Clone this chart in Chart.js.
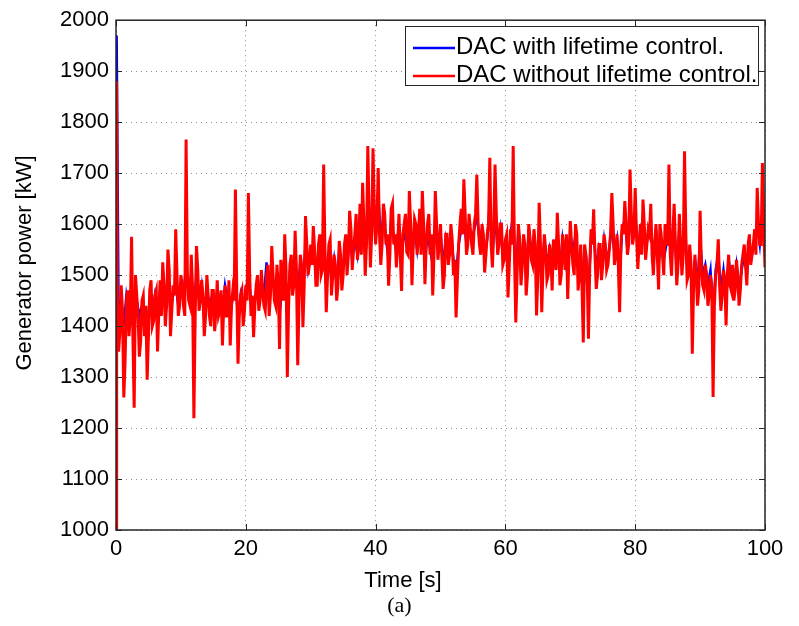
<!DOCTYPE html>
<html><head><meta charset="utf-8">
<script src="https://cdn.jsdelivr.net/npm/chart.js@4.4.0/dist/chart.umd.min.js"></script>
<style>
html,body{margin:0;padding:0;background:#fff;}
#wrap{position:relative;width:799px;height:626px;}
canvas{display:block;}
#cap{position:absolute;left:0;width:799px;top:592px;text-align:center;font:22px "Liberation Serif",serif;color:#000;}
</style>
</head><body>
<div id="wrap"><canvas id="c" width="799" height="626"></canvas><div id="cap">(a)</div></div>
<script>
// Time axis sampling: start-up transient, then 0.2 s samples (even = main, odd = mid)
const startTimes = [0, 0.1];
const sampleStep = 0.4;
const redStart = [1000, 1880];
const blueStart = [1000, 1970];
// red samples at t = 0.4, 0.8, ... 100
const redValues = [
1350,1480,1260,1450,1380,1575,1240,1460,1340,1450,1380,1295,1470,1400,1460,1350,1490,1525,1400,1550,1380,1480,1590,1420,1500,
1440,1766,1450,1540,1219,1557,1430,1490,1380,1500,1420,1470,1390,1490,1430,1362,1480,1420,1362,1470,1668,1326,1460,1400,1480,
1661,1420,1378,1480,1430,1510,1440,1500,1420,1557,1450,1520,1355,1500,1580,1300,1520,1460,1587,1323,1540,1398,1616,1500,1560,
1596,1480,1560,1500,1717,1427,1560,1460,1540,1450,1567,1470,1560,1500,1626,1510,1580,1530,1640,1681,1499,1753,1515,1749,1560,
1710,1520,1640,1560,1479,1630,1560,1515,1620,1469,1600,1545,1665,1480,1610,1540,1630,1665,1482,1600,1540,1460,1665,1530,1600,
1473,1580,1520,1600,1500,1417,1560,1630,1688,1540,1620,1560,1600,1697,1560,1600,1505,1580,1730,1515,1717,1540,1600,1520,1570,
1456,1590,1753,1407,1600,1480,1580,1460,1600,1530,1590,1421,1642,1427,1580,1490,1560,1470,1540,1622,1480,1580,1510,1453,1606,
1520,1600,1470,1560,1368,1540,1375,1590,1629,1473,1560,1490,1580,1510,1550,1661,1520,1580,1427,1600,1645,1540,1707,1560,1671,
1512,1600,1648,1530,1590,1640,1500,1600,1472,1580,1500,1560,1717,1499,1640,1480,1620,1500,1743,1490,1560,1346,1540,1440,1626,
1480,1520,1440,1500,1261,1500,1570,1430,1510,1401,1540,1470,1450,1530,1440,1520,1560,1480,1580,1540,1590,1671,1560,1720,1515
];
// red samples at t = 0.2, 0.6, ... 99.8
const redMid = [
1460,1390,1430,1330,1470,1420,1380,1500,1420,1370,1460,1440,1380,1490,1410,1470,1430,1420,1480,1440,1510,1430,1460,1500,1440,
1480,1420,1500,1440,1470,1420,1510,1450,1460,1420,1460,1400,1470,1430,1420,1470,1440,1420,1490,1440,1450,1480,1420,1470,1430,
1450,1500,1460,1440,1500,1450,1470,1430,1520,1460,1500,1440,1480,1530,1450,1510,1440,1540,1480,1510,1450,1520,1480,1560,1520,
1520,1550,1480,1580,1510,1540,1500,1570,1500,1520,1480,1540,1500,1580,1540,1590,1550,1620,1560,1540,1600,1560,1620,1580,1630,
1600,1580,1560,1620,1580,1540,1640,1580,1560,1540,1580,1620,1540,1600,1560,1600,1580,1540,1600,1560,1620,1580,1540,1600,1560,
1540,1500,1580,1540,1570,1530,1490,1600,1580,1620,1560,1590,1540,1620,1600,1540,1580,1540,1600,1560,1590,1620,1560,1600,1530,
1580,1520,1560,1540,1500,1570,1520,1560,1500,1570,1520,1560,1500,1560,1520,1550,1500,1540,1570,1510,1560,1500,1550,1580,1540,
1560,1500,1580,1500,1480,1560,1500,1520,1560,1540,1500,1560,1520,1560,1520,1580,1600,1540,1520,1560,1580,1600,1560,1620,1580,
1580,1560,1540,1600,1560,1580,1540,1560,1540,1600,1540,1600,1560,1540,1580,1560,1520,1560,1540,1580,1500,1520,1480,1500,1470,
1520,1470,1500,1460,1480,1440,1520,1480,1460,1490,1500,1480,1520,1470,1500,1470,1540,1520,1560,1520,1560,1540,1600,1560,1600
];
// blue samples at t = 0.4, 0.8, ... 100
const blueValues = [
1420,1450,1400,1460,1430,1480,1410,1450,1420,1440,1430,1400,1450,1420,1460,1430,1470,1490,1440,1500,1430,1460,1480,1440,1470,
1460,1520,1470,1500,1440,1500,1450,1480,1430,1470,1440,1460,1420,1470,1450,1430,1480,1450,1420,1460,1500,1410,1460,1430,1470,
1500,1450,1430,1470,1450,1490,1460,1525,1440,1510,1470,1500,1420,1480,1530,1430,1510,1470,1540,1450,1530,1480,1560,1510,1540,
1560,1500,1550,1510,1600,1480,1540,1490,1530,1480,1550,1500,1540,1520,1580,1530,1570,1540,1600,1620,1540,1640,1560,1650,1570,
1665,1560,1620,1570,1530,1610,1570,1550,1600,1530,1590,1560,1620,1530,1590,1550,1600,1620,1530,1580,1550,1520,1610,1550,1580,
1520,1570,1540,1580,1530,1500,1560,1590,1610,1560,1600,1570,1590,1620,1570,1590,1540,1570,1640,1540,1620,1550,1590,1540,1560,
1510,1580,1620,1490,1590,1520,1570,1500,1590,1540,1580,1500,1590,1500,1570,1520,1550,1510,1540,1580,1510,1570,1530,1500,1580,
1540,1580,1510,1550,1460,1540,1470,1570,1590,1510,1550,1520,1570,1530,1550,1600,1540,1570,1500,1590,1610,1550,1630,1570,1620,
1550,1590,1610,1550,1580,1600,1530,1590,1520,1570,1530,1560,1620,1530,1600,1510,1590,1520,1620,1510,1550,1460,1530,1480,1570,
1500,1520,1480,1510,1420,1510,1540,1470,1510,1460,1530,1490,1480,1520,1470,1510,1540,1500,1560,1540,1570,1600,1560,1620,1540
];
const xTicks = [0, 20, 40, 60, 80, 100];
const yTicks = [1000, 1100, 1200, 1300, 1400, 1500, 1600, 1700, 1800, 1900, 2000];
const seriesLabels = ['DAC with lifetime control.', 'DAC without lifetime control.'];
const xTitle = 'Time [s]';
const yTitle = 'Generator power [kW]';

function toPoints(start, vals, mids) {
  const pts = start.map((v, i) => ({x: startTimes[i], y: v}));
  vals.forEach((v, i) => {
    if (mids) pts.push({x: +((i + 0.5) * sampleStep).toFixed(2), y: mids[i]});
    pts.push({x: +((i + 1) * sampleStep).toFixed(2), y: v});
  });
  return pts;
}

const FONT = '"Liberation Sans", Arial, sans-serif';

const framePlugin = {
  id: 'frame',
  afterDatasetsDraw(chart) {
    const {ctx, chartArea: a, scales: {x, y}} = chart;
    ctx.save();
    ctx.strokeStyle = '#262626';
    ctx.lineWidth = 1.5;
    ctx.strokeRect(a.left, a.top, a.right - a.left, a.bottom - a.top);
    ctx.lineWidth = 1;
    ctx.beginPath();
    const tl = 6;
    xTicks.forEach(t => {
      const px = Math.round(x.getPixelForValue(t)) + 0.5;
      ctx.moveTo(px, a.bottom); ctx.lineTo(px, a.bottom - tl);
      ctx.moveTo(px, a.top); ctx.lineTo(px, a.top + tl);
    });
    yTicks.forEach(t => {
      const py = Math.round(y.getPixelForValue(t)) + 0.5;
      ctx.moveTo(a.left, py); ctx.lineTo(a.left + tl, py);
      ctx.moveTo(a.right, py); ctx.lineTo(a.right - tl, py);
    });
    ctx.stroke();

    // legend box
    const lx = 405.5, ly = 26.5, lw = 353, lh = 59;
    ctx.fillStyle = '#fff';
    ctx.fillRect(lx, ly, lw, lh);
    ctx.strokeStyle = '#262626';
    ctx.lineWidth = 1;
    ctx.strokeRect(lx, ly, lw, lh);
    const rows = [48, 76];
    const byLabel = {};
    chart.data.datasets.forEach(ds => { byLabel[ds.label] = ds; });
    seriesLabels.forEach((lab, i) => {
      const ds = byLabel[lab];
      ctx.strokeStyle = ds.borderColor;
      ctx.lineWidth = 2.5;
      ctx.beginPath();
      ctx.moveTo(413, rows[i]); ctx.lineTo(455, rows[i]);
      ctx.stroke();
      ctx.fillStyle = '#000';
      ctx.font = '24px ' + FONT;
      ctx.textBaseline = 'middle';
      ctx.textAlign = 'left';
      ctx.fillText(lab, 456, rows[i] - 1);
    });

    // axis titles
    ctx.fillStyle = '#000';
    ctx.font = '22px ' + FONT;
    ctx.textAlign = 'center';
    ctx.textBaseline = 'middle';
    ctx.fillText(xTitle, 403, 581);
    ctx.translate(25, 263);
    ctx.rotate(-Math.PI / 2);
    ctx.fillText(yTitle, 0, 0);
    ctx.restore();
  }
};

new Chart(document.getElementById('c'), {
  type: 'scatter',
  data: {
    datasets: [
      {label: seriesLabels[0], data: toPoints(blueStart, blueValues, null), showLine: true,
       borderColor: '#0000ff', borderWidth: 2.5, pointRadius: 0, tension: 0, order: 2},
      {label: seriesLabels[1], data: toPoints(redStart, redValues, redMid), showLine: true,
       borderColor: '#ff0000', borderWidth: 3, pointRadius: 0, tension: 0, order: 1}
    ]
  },
  options: {
    responsive: false,
    animation: false,
    devicePixelRatio: 1,
    layout: {padding: {left: 0, right: 34, top: 18, bottom: 0}},
    plugins: {legend: {display: false}, tooltip: {enabled: false}},
    scales: {
      x: {
        type: 'linear', min: 0, max: 100,
        afterFit(s) { s.height = 96; },
        afterBuildTicks(s) { s.ticks = xTicks.map(v => ({value: v})); },
        ticks: {font: {family: FONT, size: 22}, color: '#000', padding: 6, callback: v => String(v)},
        grid: {color: '#8c8c8c', lineWidth: 1, drawTicks: false},
        border: {display: false, dash: [1, 4]}
      },
      y: {
        type: 'linear', min: 1000, max: 2000,
        afterFit(s) { s.width = 116; },
        afterBuildTicks(s) { s.ticks = yTicks.map(v => ({value: v})); },
        ticks: {font: {family: FONT, size: 22}, color: '#000', padding: 7, callback: v => String(v)},
        grid: {color: '#8c8c8c', lineWidth: 1, drawTicks: false},
        border: {display: false, dash: [1, 4]}
      }
    }
  },
  plugins: [framePlugin]
});
</script>
</body></html>
